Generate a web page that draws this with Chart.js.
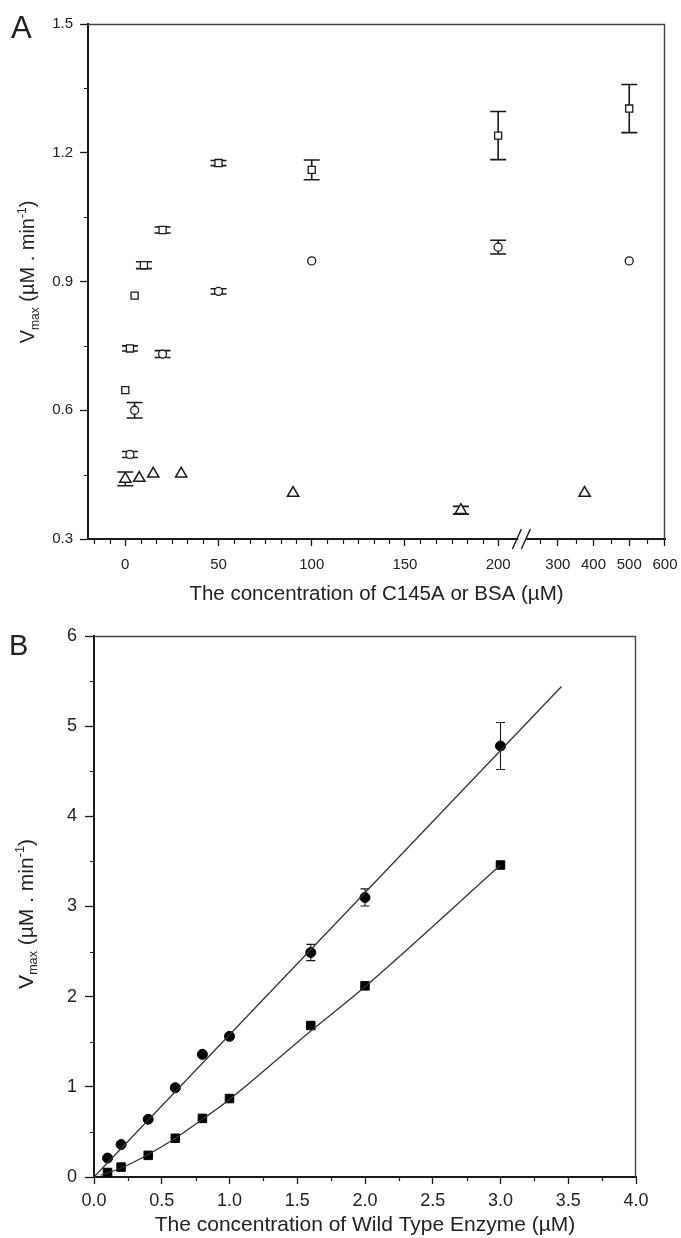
<!DOCTYPE html>
<html>
<head>
<meta charset="utf-8">
<script src="https://cdn.jsdelivr.net/npm/chart.js@4.4.1/dist/chart.umd.min.js"></script>
<style>
  html, body { margin: 0; padding: 0; background: #fff; }
  canvas { display: block; }
</style>
</head>
<body>
<canvas id="chartA" width="681" height="612"></canvas>
<canvas id="chartB" width="681" height="626"></canvas>
<script>
// ---- Panel A: Vmax vs concentration of C145A or BSA (µM) ----
const sqX   = [0, 2.5, 5, 10, 20, 50, 100, 200, 500]
const sqY   = [0.647, 0.744, 0.867, 0.938, 1.02, 1.176, 1.16, 1.24, 1.303]
const sqErr = [0, 0.006, 0, 0.008, 0.007, 0.006, 0.023, 0.056, 0.056]

const ciX   = [2.5, 5, 20, 50, 100, 200, 500]
const ciY   = [0.497, 0.6, 0.731, 0.877, 0.948, 0.98, 0.948]
const ciErr = [0.007, 0.018, 0.008, 0.006, 0, 0.016, 0]

const trX   = [0, 7.5, 15, 30, 90, 180, 375]
const trY   = [0.44, 0.442, 0.452, 0.452, 0.407, 0.367, 0.407]
const trErr = [0.016, 0, 0, 0, 0, 0.009, 0]

const xTicksA = [0, 50, 100, 150, 200, 300, 400, 500, 600]
const yTicksA = [0.3, 0.6, 0.9, 1.2, 1.5]

// ---- Panel B: Vmax vs concentration of Wild Type Enzyme (µM) ----
const wtX     = [0.1, 0.2, 0.4, 0.6, 0.8, 1.0, 1.6, 2.0, 3.0]
const circY   = [0.21, 0.36, 0.64, 0.99, 1.36, 1.56, 2.49, 3.10, 4.78]
const circErr = [0, 0, 0, 0, 0, 0, 0.09, 0.095, 0.26]
const sqrY    = [0.05, 0.11, 0.24, 0.43, 0.65, 0.87, 1.68, 2.12, 3.46]

const fitUpX  = [0, 3.45]
const fitUpY  = [0, 5.44]
const fitLowX = [0.05, 0.2, 0.4, 0.6, 0.8, 1.0, 1.6, 2.0, 3.0]
const fitLowY = [0.02, 0.10, 0.25, 0.43, 0.64, 0.86, 1.62, 2.11, 3.46]

const xTicksB = [0, 0.5, 1, 1.5, 2, 2.5, 3, 3.5, 4]
const yTicksB = [0, 1, 2, 3, 4, 5, 6]

const ink = "#1a1a1a"
const textInk = "#222"
const family = '"Liberation Sans", Arial, Helvetica, sans-serif'

// broken x axis of panel A: linear up to the break, compressed after it
const breakAt = 213
function foldX(v) {
    if (v <= breakAt) return v
    return 232 + (v - 300) * 0.1916
}

function points(xs, ys) {
    return xs.map((x, i) => ({ x: x, y: ys[i] }))
}

function minorTicks(chart, id, values, len) {
    const s = chart.scales[id]
    const a = chart.chartArea
    const ctx = chart.ctx
    ctx.save()
    ctx.strokeStyle = ink
    ctx.lineWidth = 1.2
    ctx.beginPath()
    values.forEach(v => {
        const p = Math.round(s.getPixelForValue(v)) + 0.5
        if (s.isHorizontal()) {
            ctx.moveTo(p, a.bottom)
            ctx.lineTo(p, a.bottom + len)
        } else {
            ctx.moveTo(a.left, p)
            ctx.lineTo(a.left - len, p)
        }
    })
    ctx.stroke()
    ctx.restore()
}

function errorBars(chart, dsIndex, errs, cap, width) {
    const meta = chart.getDatasetMeta(dsIndex)
    const ys = chart.scales.y
    const data = chart.data.datasets[dsIndex].data
    const ctx = chart.ctx
    ctx.save()
    ctx.strokeStyle = ink
    ctx.lineWidth = width
    meta.data.forEach((pt, i) => {
        const e = errs[i]
        if (!e) return
        const top = ys.getPixelForValue(data[i].y + e)
        const bot = ys.getPixelForValue(data[i].y - e)
        ctx.beginPath()
        ctx.moveTo(pt.x, top); ctx.lineTo(pt.x, bot)
        ctx.moveTo(pt.x - cap, top); ctx.lineTo(pt.x + cap, top)
        ctx.moveTo(pt.x - cap, bot); ctx.lineTo(pt.x + cap, bot)
        ctx.stroke()
    })
    ctx.restore()
}

function boxTopRight(chart) {
    const a = chart.chartArea
    const ctx = chart.ctx
    ctx.save()
    ctx.strokeStyle = "#444"
    ctx.lineWidth = 1.4
    ctx.beginPath()
    ctx.moveTo(a.left, a.top + 0.5)
    ctx.lineTo(a.right - 0.5, a.top + 0.5)
    ctx.lineTo(a.right - 0.5, a.bottom)
    ctx.stroke()
    ctx.restore()
}

// V_max (µM . min^-1), rotated, with sub- and superscript
function vmaxTitle(ctx, cx, cy, size) {
    const parts = [["V", 1, 0], ["max", 0.6, 0.22], [" (\u00b5M . min", 1, 0], ["-1", 0.6, -0.42], [")", 1, 0]]
    ctx.save()
    ctx.translate(cx, cy)
    ctx.rotate(-Math.PI / 2)
    ctx.fillStyle = textInk
    ctx.textBaseline = "alphabetic"
    ctx.textAlign = "left"
    const widths = parts.map(p => {
        ctx.font = (size * p[1]) + "px " + family
        return ctx.measureText(p[0]).width
    })
    let x = -widths.reduce((s, w) => s + w, 0) / 2
    parts.forEach((p, i) => {
        ctx.font = (size * p[1]) + "px " + family
        ctx.fillText(p[0], x, size * 0.36 + p[2] * size)
        x += widths[i]
    })
    ctx.restore()
}

function panelLetter(ctx, letter, x, y, size) {
    ctx.save()
    ctx.fillStyle = textInk
    ctx.font = size + "px " + family
    ctx.textAlign = "left"
    ctx.textBaseline = "alphabetic"
    ctx.fillText(letter, x, y)
    ctx.restore()
}

function axisOpts(extra) {
    return Object.assign({
        type: "linear",
        grid: { display: true, drawOnChartArea: false, drawTicks: true, tickLength: 8, tickColor: ink, tickWidth: 1.3 },
        border: { display: true, color: ink, width: 2 }
    }, extra)
}

// fixed axis boxes, no extra room for overhanging labels
function fixX(h) {
    return s => { s.height = h; s.paddingLeft = 0; s.paddingRight = 0 }
}
function fixY(w) {
    return s => { s.width = w; s.paddingTop = 0; s.paddingBottom = 0 }
}

// minor tick values
const minorXA = []
for (let k = -2; k <= 23; k++) {
    const v = k * 50 / 6
    if (k % 6 !== 0 && v < 205) minorXA.push(v)
}
const minorXA2 = [250, 350, 450, 550].map(foldX)
const minorYA = [0.45, 0.75, 1.05, 1.35]
const minorXB = [0.25, 0.75, 1.25, 1.75, 2.25, 2.75, 3.25, 3.75]
const minorYB = [0.5, 1.5, 2.5, 3.5, 4.5, 5.5]

const decorA = {
    id: "decorA",
    beforeDatasetsDraw(chart) {
        errorBars(chart, 0, sqErr, 8, 1.6)
        errorBars(chart, 1, ciErr, 8, 1.6)
        errorBars(chart, 2, trErr, 8, 1.6)
    },
    afterDraw(chart) {
        const ctx = chart.ctx
        const a = chart.chartArea
        boxTopRight(chart)
        minorTicks(chart, "x", minorXA.concat(minorXA2), 5)
        minorTicks(chart, "y", minorYA, 4)
        // axis break marks
        const bx = chart.scales.x.getPixelForValue(breakAt)
        ctx.save()
        ctx.fillStyle = "#fff"
        ctx.fillRect(bx - 4, a.bottom - 3, 8, 6)
        ctx.strokeStyle = ink
        ctx.lineWidth = 1.4
        ctx.beginPath()
        ctx.moveTo(bx - 10, a.bottom + 10); ctx.lineTo(bx - 1, a.bottom - 10)
        ctx.moveTo(bx - 1, a.bottom + 10); ctx.lineTo(bx + 8, a.bottom - 10)
        ctx.stroke()
        ctx.restore()
        vmaxTitle(ctx, 27, 272, 20)
        panelLetter(ctx, "A", 11, 38, 31)
    }
}

const decorB = {
    id: "decorB",
    beforeDatasetsDraw(chart) {
        errorBars(chart, 2, circErr, 4.5, 1.1)
    },
    afterDraw(chart) {
        boxTopRight(chart)
        minorTicks(chart, "x", minorXB, 4)
        minorTicks(chart, "y", minorYB, 4)
        vmaxTitle(chart.ctx, 25, 302, 21)
        panelLetter(chart.ctx, "B", 9, 43, 29)
    }
}

Chart.defaults.font.family = family
Chart.defaults.color = textInk

new Chart(document.getElementById("chartA"), {
    type: "scatter",
    data: {
        datasets: [
            { label: "squares", data: points(sqX.map(foldX), sqY), pointStyle: "rect", pointRadius: 5,
              backgroundColor: "#fff", borderColor: ink, borderWidth: 1.3 },
            { label: "circles", data: points(ciX.map(foldX), ciY), pointStyle: "circle", pointRadius: 4,
              backgroundColor: "#fff", borderColor: ink, borderWidth: 1.3 },
            { label: "triangles", data: points(trX.map(foldX), trY), pointStyle: "triangle", pointRadius: 6.5,
              backgroundColor: "#fff", borderColor: ink, borderWidth: 1.5 }
        ]
    },
    options: {
        responsive: false,
        devicePixelRatio: 1,
        animation: false,
        events: [],
        layout: { padding: { top: 24, right: 16, left: 0, bottom: 0 } },
        plugins: { legend: { display: false }, tooltip: { enabled: false } },
        scales: {
            x: axisOpts({
                min: -20,
                max: 289.5,
                afterBuildTicks: s => { s.ticks = xTicksA.map(v => ({ value: foldX(v) })) },
                afterFit: fixX(73),
                ticks: { padding: 10, font: { size: 15 }, maxRotation: 0, callback: (v, i) => String(xTicksA[i]) },
                title: { display: true, text: "The concentration of C145A or BSA (\u00b5M)", font: { size: 20.5 }, padding: { top: 0, bottom: 5 } },
                grid: { display: true, drawOnChartArea: false, drawTicks: true, tickLength: 7, tickColor: ink, tickWidth: 1.3 }
            }),
            y: axisOpts({
                min: 0.3,
                max: 1.5,
                afterBuildTicks: s => { s.ticks = yTicksA.map(v => ({ value: v })) },
                afterFit: fixY(88),
                ticks: { padding: 7, font: { size: 15 }, callback: v => v.toFixed(1) }
            })
        }
    },
    plugins: [decorA]
})

new Chart(document.getElementById("chartB"), {
    type: "scatter",
    data: {
        datasets: [
            { label: "fit upper", data: points(fitUpX, fitUpY), showLine: true, pointRadius: 0,
              borderColor: "#333", borderWidth: 1.3 },
            { label: "fit lower", data: points(fitLowX, fitLowY), showLine: true, pointRadius: 0,
              borderColor: "#333", borderWidth: 1.3, cubicInterpolationMode: "monotone" },
            { label: "circles", data: points(wtX, circY), pointStyle: "circle", pointRadius: 5,
              backgroundColor: "#000", borderColor: "#000", borderWidth: 1 },
            { label: "squares", data: points(wtX, sqrY), pointStyle: "rect", pointRadius: 6,
              backgroundColor: "#000", borderColor: "#000", borderWidth: 1 }
        ]
    },
    options: {
        responsive: false,
        devicePixelRatio: 1,
        animation: false,
        events: [],
        layout: { padding: { top: 24, right: 45, left: 0, bottom: 0 } },
        plugins: { legend: { display: false }, tooltip: { enabled: false } },
        scales: {
            x: axisOpts({
                min: 0,
                max: 4,
                afterBuildTicks: s => { s.ticks = xTicksB.map(v => ({ value: v })) },
                afterFit: fixX(61),
                ticks: { padding: 6, font: { size: 18 }, maxRotation: 0, callback: v => v.toFixed(1) },
                title: { display: true, text: "The concentration of Wild Type Enzyme (\u00b5M)", font: { size: 21 }, padding: { top: 0, bottom: 0 } },
                grid: { display: true, drawOnChartArea: false, drawTicks: true, tickLength: 7, tickColor: ink, tickWidth: 1.3 }
            }),
            y: axisOpts({
                min: 0,
                max: 6,
                afterBuildTicks: s => { s.ticks = yTicksB.map(v => ({ value: v })) },
                afterFit: fixY(94),
                ticks: { padding: 8, font: { size: 18 }, callback: v => String(v) },
                grid: { display: true, drawOnChartArea: false, drawTicks: true, tickLength: 9, tickColor: ink, tickWidth: 1.3 }
            })
        }
    },
    plugins: [decorB]
})
</script>
</body>
</html>
